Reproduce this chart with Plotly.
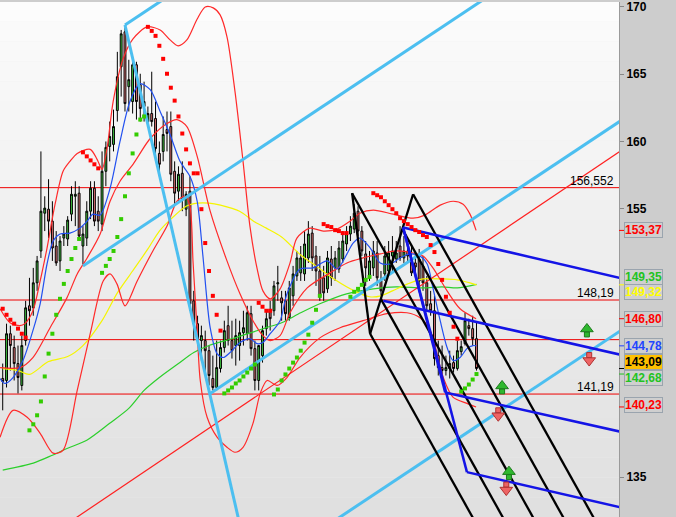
import plotly.graph_objects as go

# ---------------- data ----------------
opens = [142.35,142.20,145.68,144.65,143.46,141.83,145.17,147.76,147.61,149.47,
151.84,154.65,154.95,154.06,152.21,151.10,152.80,152.73,154.58,155.91,
156.14,152.21,152.80,154.80,156.51,154.80,153.84,157.77,159.62,159.77,
162.29,165.55,168.15,164.07,162.96,165.70,164.22,162.59,161.47,162.07,
161.70,159.10,159.25,160.88,161.10,157.77,156.29,157.62,154.95,156.29,
148.13,146.43,145.17,145.17,144.42,142.35,141.68,143.09,144.65,146.28,
145.17,144.80,144.80,145.76,145.68,147.17,144.57,142.20,144.05,146.06,
147.39,147.39,149.39,148.35,148.13,146.87,148.50,149.98,150.21,150.13,
151.32,153.17,151.47,150.35,149.84,149.02,151.24,150.58,150.50,151.24,
152.36,153.10,153.47,154.80,153.32,151.62,149.98,150.58,151.69,149.61,
150.13,150.35,151.47,151.24,152.21,151.32,151.84,151.24,150.95,151.24,
150.73,149.47,147.91,147.39,144.05,143.16,142.94,143.09,143.53,143.09,
144.35,144.94,146.28,146.06,145.31]
highs = [143.46,146.43,146.28,145.54,144.80,145.54,148.13,149.84,150.58,151.47,
159.25,155.91,157.18,155.54,153.32,152.95,153.69,154.43,156.66,157.03,
156.66,153.69,155.54,157.03,157.03,155.91,159.25,159.99,161.47,162.36,
166.66,168.29,168.44,166.07,166.07,165.92,165.03,164.44,162.59,165.18,
162.96,159.99,161.85,162.22,162.22,158.51,158.14,158.51,156.29,157.40,
148.87,147.02,146.28,145.91,144.80,144.05,145.17,145.17,146.65,147.76,
146.65,146.80,146.65,147.39,147.76,147.76,145.17,144.80,146.28,147.39,
148.13,149.61,150.73,148.87,148.87,149.61,150.73,151.84,152.21,153.32,
154.06,153.69,152.21,151.47,150.73,151.84,152.21,151.84,152.58,153.32,
153.69,154.43,155.32,155.17,153.69,152.58,151.84,152.58,152.58,150.35,
152.21,152.58,152.95,152.58,153.69,152.95,152.73,152.21,151.84,151.99,
151.47,149.98,148.87,148.50,145.17,144.80,144.05,144.42,144.05,145.17,
145.17,147.24,146.80,147.02,146.50]
lows = [139.98,141.68,142.94,142.20,141.24,141.46,144.80,146.28,147.02,148.87,
151.32,153.32,152.80,151.10,150.73,150.35,152.21,152.21,154.06,153.69,
152.58,150.87,152.21,154.21,153.69,153.32,153.32,156.66,158.51,159.25,
161.47,163.33,162.22,162.22,162.07,161.62,161.47,161.47,161.10,161.10,
158.51,157.77,158.51,159.25,157.03,155.17,155.54,154.80,154.43,147.39,
145.17,144.80,143.68,142.57,141.83,141.46,141.46,142.79,144.28,144.80,
143.83,143.31,143.68,144.80,145.17,144.05,141.46,141.46,143.53,145.54,
145.91,147.02,148.13,146.65,146.65,146.65,147.76,149.61,149.61,149.61,
150.95,150.35,149.24,148.13,148.13,148.72,149.24,149.61,150.21,150.95,
151.84,152.58,153.17,152.95,151.47,149.24,149.61,149.98,149.24,148.50,
149.61,149.98,150.35,150.95,151.10,150.95,150.95,149.98,150.21,149.24,
148.87,147.39,147.02,143.31,142.57,142.35,142.57,142.35,142.79,142.94,
144.05,144.80,145.54,144.80,142.94]
closes = [142.13,145.68,144.80,143.46,142.42,144.80,147.61,147.39,149.47,151.10,
154.80,155.03,154.06,152.06,150.95,152.58,153.10,154.14,156.06,156.06,
152.95,153.10,154.80,156.51,154.06,154.06,157.77,159.55,160.36,161.10,
164.81,168.00,162.81,164.59,165.70,162.96,162.44,162.96,162.07,161.47,
159.47,158.29,160.51,160.59,157.55,156.14,157.55,155.69,156.06,147.91,
146.43,145.17,145.54,144.42,142.57,141.68,143.16,144.65,145.91,145.17,
144.42,145.54,145.76,146.13,147.24,144.57,142.20,144.80,145.91,146.80,
146.80,149.24,149.47,147.98,147.17,149.09,150.13,151.32,151.32,152.36,
153.10,151.32,150.35,148.50,148.72,151.32,149.84,151.32,152.06,152.58,
153.17,153.69,154.65,153.32,151.84,150.58,151.10,151.84,149.84,148.87,
151.47,151.69,151.84,151.69,151.32,151.84,151.47,150.21,150.65,149.61,
149.47,147.76,147.39,143.83,143.16,142.94,143.16,143.46,143.09,144.42,
144.72,146.65,146.06,145.31,143.09]

# Parabolic SAR
sar = [147.54,147.09,146.72,146.43,146.06,145.68,145.39,138.49,138.94,139.61,
140.64,142.50,144.20,145.68,147.09,148.28,149.39,150.35,151.24,152.06,
152.73,159.18,158.88,158.58,158.29,157.99,150.21,150.73,151.24,151.84,
152.88,154.21,155.91,157.62,159.10,160.51,161.62,161.85,168.52,168.22,
167.85,167.11,166.14,165.03,163.99,163.03,161.85,160.58,159.40,158.36,
157.62,157.62,154.95,152.43,150.35,148.50,147.09,145.91,141.24,141.46,
141.68,141.98,142.20,142.50,142.79,143.09,143.39,147.98,147.69,147.39,
147.39,141.16,141.53,142.20,142.65,143.09,143.53,143.91,144.42,145.02,
145.61,146.50,147.46,148.50,153.84,153.69,153.62,153.39,153.32,153.17,
153.17,148.43,148.80,149.02,149.32,149.69,149.91,156.14,155.99,155.84,
155.54,155.25,154.95,154.65,154.28,154.06,153.84,153.62,153.39,153.25,
153.02,152.88,152.28,151.76,150.87,149.69,148.43,147.24,146.20,145.31,
141.38,141.61,141.90,142.27,142.68]
sar_dir = list("RRRRRRR" + "G"*14 + "R"*5 + "G"*12 + "R"*20 + "G"*9 + "R"*4 +
               "G"*13 + "R"*7 + "G"*6 + "R"*23 + "G"*5)

# Moving averages / Bollinger (sampled points: candle index, price)
ma_long_x = [0,8,13,17,22,28,33,37,41,46,50,54,60,65,69,73,78,83,90,97,103,110,115,119,124]
ma_long_y = [135.53,136.05,136.64,137.16,137.75,139.01,140.12,141.46,142.42,143.46,144.28,144.80,
             145.31,145.76,146.13,146.50,147.24,147.91,148.65,149.02,149.17,149.09,149.17,149.09,149.35]
ma_mid_x = [0,4,7,12,17,21,26,30,34,38,41,44,48,51,54,57,62,66,69,73,78,82,87,92,96,99,102,106,110,115,119,124]
ma_mid_y = [143.09,142.94,142.65,143.61,143.98,144.80,146.65,148.72,150.35,151.99,153.32,154.21,155.17,
            155.40,155.40,155.25,154.80,153.99,153.54,152.88,151.54,150.73,149.69,148.87,148.43,148.50,
            148.87,149.39,149.76,149.76,149.69,149.32]
ma_fast_x = [-0.7,0.6,2.7,5.3,7.9,9.8,11.6,13.2,15.0,17.6,20.2,22.1,23.6,25.5,28.1,30.7,33.3,35.9,38.6,
             41.2,43.8,46.4,49.0,50.9,52.4,54.3,56.1,57.7,59.5,62.1,64.7,66.6,68.1,70.0,72.6,74.4,77.8,
             81.2,84.9,87.5,90.1,91.7,93.5,96.2,98.8,101.4,104.0,106.6,109.2,111.1,112.6,114.5,116.3,
             117.9,119.7,121.5,123.1,124.0]
ma_fast_y = [142.35,141.98,142.42,143.68,145.91,147.91,150.87,152.58,153.10,153.17,153.54,154.06,154.58,
             154.51,156.51,159.99,162.96,164.29,163.85,162.22,160.51,158.51,157.40,155.54,151.47,146.13,
             144.20,143.91,144.28,145.02,145.31,144.94,145.02,145.68,146.65,148.65,150.50,150.58,151.10,
             150.50,151.62,152.43,152.80,152.06,150.95,150.87,151.32,151.62,151.47,150.87,149.09,146.65,
             144.65,143.68,143.91,144.57,144.80,144.78]
bb_up_x = [-0.7,1.9,4.5,5.8,7.9,9.8,11.6,13.7,15.8,17.6,19.5,22.9,24.7,26.0,27.3,28.9,31.5,34.1,37.8,
           41.2,43.8,45.9,48.2,50.9,53.0,55.1,56.9,58.7,60.8,62.9,64.7,66.6,68.1,70.0,72.6,75.2,77.0,
           80.4,83.9,87.5,90.9,93.5,97.0,102.2,107.4,110.5,114.5,117.9,120.5,122.3,123.9]
bb_up_y = [147.54,146.50,146.28,146.43,147.39,149.61,152.06,155.32,157.77,158.51,159.10,159.40,158.66,
           157.92,159.47,162.96,166.14,167.63,168.52,168.29,167.55,167.11,167.55,169.11,170.00,169.93,
           169.41,167.78,163.70,158.51,153.69,150.50,148.87,148.28,149.02,150.95,152.80,153.54,153.32,
           153.47,154.06,154.65,154.88,154.58,154.28,154.51,155.25,155.54,155.32,154.58,153.37]
bb_mid_x = [-0.7,4.5,7.9,12.4,16.8,19.5,22.1,25.5,28.1,30.7,34.1,38.6,43.0,45.6,48.2,50.9,54.3,58.7,
            62.1,65.5,68.1,70.0,72.6,75.2,79.7,85.7,90.1,94.3,98.8,103.2,107.4,110.0,112.6,116.3,119.7,123.9]
bb_mid_y = [143.16,143.16,143.91,146.13,148.35,150.13,151.32,153.10,155.54,157.03,158.29,160.21,161.33,
            161.62,161.10,158.88,154.80,151.10,148.65,146.65,145.54,145.17,145.54,147.24,149.09,150.21,
            150.95,151.32,151.62,151.84,151.69,151.47,150.58,148.87,147.54,146.80]
bb_low_x = [-0.7,2.7,6.4,9.8,13.2,15.8,19.5,22.9,26.3,28.1,29.9,32.0,35.2,39.3,43.0,45.6,47.7,49.0,49.8,
            50.9,51.7,53.5,56.1,58.7,60.8,62.9,65.5,67.4,69.2,71.8,74.4,77.8,83.1,88.3,94.3,100.6,105.8,
            109.2,111.9,115.3,117.9,121.5,123.9]
bb_low_y = [137.98,139.98,139.46,138.27,136.79,137.01,141.46,145.68,149.61,150.13,149.39,147.76,149.61,
            151.84,153.69,155.54,155.91,155.17,151.10,145.91,142.20,139.46,137.98,137.23,136.86,137.23,
            139.01,141.24,142.20,141.83,142.42,143.91,145.39,146.13,146.65,147.17,147.24,146.87,145.91,
            142.42,140.94,140.50,140.23]

# Drawing tools (candle index, price)
cyan_lines = [((32.0, 168.66), (50.0, 172.06)),
              ((21.0, 150.73), (130.0, 171.34)),
              ((54.3, 141.24), (162.0, 161.58)),
              ((80.0, 130.47), (162.0, 145.96)),
              ((32.0, 168.66), (63.0, 130.30))]
red_trend = ((15.0, 131.18), (162.0, 159.34))
blue_lines = [((104.8, 153.59), (162.0, 149.80)),
              ((99.6, 148.13), (162.0, 144.10)),
              ((115.8, 141.31), (162.0, 138.37)),
              ((121.5, 135.38), (162.0, 132.74)),
              ((104.8, 153.59), (121.5, 135.38)),
              ((104.8, 153.59), (115.8, 141.31))]
# pitchfork pivots A, B, C
fork_a = (91.44, 156.14)
fork_b = (96.16, 145.68)
fork_c = (107.41, 156.06)

hlevels = [156.552, 148.19, 145.24, 141.19]
hlevel_text = ["156,552", "148,19", "", "141,19"]

up_arrows_x = [152.9, 130.7, 132.5]
up_arrows_y = [145.85, 141.61, 135.23]
down_arrows_x = [153.5, 129.7, 131.8]
down_arrows_y = [143.87, 139.76, 134.23]

box_values = [153.37, 149.35, 149.32, 146.80, 144.78, 143.09, 142.68, 140.23]
box_pos = [153.39, 149.91, 148.80, 146.80, 144.80, 143.61, 142.42, 140.35]
box_font = ["#ff0000", "#22c322", "#ffff00", "#ff0000", "#2244ff", "#000000", "#22c322", "#ff0000"]
box_bg = ["#cfcfcf", "#cfcfcf", "#cfcfcf", "#cfcfcf", "#cfcfcf", "#ffc000", "#cfcfcf", "#cfcfcf"]
tick_marks = [(153.37, "#ff0000"), (149.32, "#ffff00"), (146.80, "#ff0000"), (144.78, "#2244ff"),
              (143.09, "#000000"), (142.68, "#22c322"), (140.23, "#ff0000")]

ytick_vals = [135, 155, 160, 165, 170]

# ---------------- figure ----------------
XR = [-0.71, 161.3]
YR = [132.04, 170.37]
PX = (YR[1] - YR[0]) / 517.0  # price per pixel
idx = list(range(len(opens)))

fig = go.Figure()

shapes = []
nb = 26
for k in range(nb):
    t = k / (nb - 1)
    c = int(252 - t * (252 - 224))
    shapes.append(dict(type="rect", xref="paper", yref="paper", x0=0, x1=1,
                       y0=1 - (k + 1) / nb, y1=1 - k / nb, layer="below",
                       fillcolor=f"rgb({c},{c},{c})", line=dict(width=0)))
for lv in hlevels:
    shapes.append(dict(type="line", xref="paper", yref="y", x0=0, x1=1, y0=lv, y1=lv,
                       line=dict(color="#ee0000", width=1), layer="below"))
for v, col in tick_marks:
    shapes.append(dict(type="line", xref="paper", yref="y", x0=1.0, x1=1.0 + 5 / 619,
                       y0=v, y1=v, line=dict(color=col, width=1)))

fig.add_trace(go.Candlestick(
    x=idx, open=opens, high=highs, low=lows, close=closes,
    increasing=dict(fillcolor="#3fc43f", line=dict(color="#000000", width=1)),
    decreasing=dict(fillcolor="#e47474", line=dict(color="#000000", width=1)),
    whiskerwidth=0, showlegend=False, hoverinfo="skip"))

def curve(x, y, color, width=1.2):
    fig.add_trace(go.Scatter(x=x, y=y, mode="lines",
                             line=dict(color=color, width=width, shape="spline", smoothing=0.8),
                             showlegend=False, hoverinfo="skip"))

curve(ma_long_x, ma_long_y, "#2ccf2c")
curve(ma_mid_x, ma_mid_y, "#f5f500")
curve(bb_up_x, bb_up_y, "#ff2a2a")
curve(bb_mid_x, bb_mid_y, "#ff2a2a")
curve(bb_low_x, bb_low_y, "#ff2a2a")
curve(ma_fast_x, ma_fast_y, "#2250f0")

def seg(p, color, width):
    fig.add_trace(go.Scatter(x=[p[0][0], p[1][0]], y=[p[0][1], p[1][1]], mode="lines",
                             line=dict(color=color, width=width), showlegend=False, hoverinfo="skip"))

seg(red_trend, "#ff2020", 1.2)
for p in cyan_lines:
    seg(p, "#4cbff0", 3)

# Andrews pitchfork: median from A through midpoint of BC, tines from B and C, quarter lines
mid = ((fork_b[0] + fork_c[0]) / 2, (fork_b[1] + fork_c[1]) / 2)
slope = (mid[1] - fork_a[1]) / (mid[0] - fork_a[0])
def ray(start):
    end_i = start[0] + (128.0 - start[1]) / slope
    return (start, (end_i, 128.0))
starts = [fork_a, fork_b, fork_c,
          (fork_b[0] + 0.25 * (fork_c[0] - fork_b[0]), fork_b[1] + 0.25 * (fork_c[1] - fork_b[1])),
          (fork_b[0] + 0.75 * (fork_c[0] - fork_b[0]), fork_b[1] + 0.75 * (fork_c[1] - fork_b[1]))]
for s in starts:
    seg(ray(s), "#000000", 2.3)
seg((fork_a, fork_b), "#000000", 2.3)
seg((fork_b, fork_c), "#000000", 2.3)

for p in blue_lines:
    seg(p, "#1414e6", 2.5)

rx = [i for i, d in zip(idx, sar_dir) if d == "R"]
ry = [v for v, d in zip(sar, sar_dir) if d == "R"]
gx = [i for i, d in zip(idx, sar_dir) if d == "G"]
gy = [v for v, d in zip(sar, sar_dir) if d == "G"]
fig.add_trace(go.Scatter(x=rx, y=ry, mode="markers", marker=dict(symbol="square", size=4, color="#ff0000"),
                         showlegend=False, hoverinfo="skip"))
fig.add_trace(go.Scatter(x=gx, y=gy, mode="markers", marker=dict(symbol="square", size=4, color="#33cc00"),
                         showlegend=False, hoverinfo="skip"))

# block arrows: head + shaft
fig.add_trace(go.Scatter(x=up_arrows_x, y=[v - 3 * PX for v in up_arrows_y], mode="markers",
                         marker=dict(symbol="square", size=5, color="#2fb82f", line=dict(color="#1c7a1c", width=1)),
                         showlegend=False, hoverinfo="skip"))
fig.add_trace(go.Scatter(x=up_arrows_x, y=[v + 2.5 * PX for v in up_arrows_y], mode="markers",
                         marker=dict(symbol="triangle-up", size=11, color="#2fb82f", line=dict(color="#1c7a1c", width=1)),
                         showlegend=False, hoverinfo="skip"))
fig.add_trace(go.Scatter(x=down_arrows_x, y=[v + 3 * PX for v in down_arrows_y], mode="markers",
                         marker=dict(symbol="square", size=5, color="#ee6464", line=dict(color="#b03030", width=1)),
                         showlegend=False, hoverinfo="skip"))
fig.add_trace(go.Scatter(x=down_arrows_x, y=[v - 2.5 * PX for v in down_arrows_y], mode="markers",
                         marker=dict(symbol="triangle-down", size=11, color="#ee6464", line=dict(color="#b03030", width=1)),
                         showlegend=False, hoverinfo="skip"))

annotations = []
for lv, txt in zip(hlevels, hlevel_text):
    if txt:
        annotations.append(dict(xref="paper", yref="y", x=1 - 3 / 619, y=lv, text=txt, showarrow=False,
                                xanchor="right", yanchor="bottom", yshift=-2,
                                font=dict(family="Liberation Sans, Arial", size=12, color="#000000")))
for v, pos, fc, bg in zip(box_values, box_pos, box_font, box_bg):
    annotations.append(dict(xref="paper", yref="y", x=1 + 5 / 619, y=pos,
                            text="<b>" + f"{v:.2f}".replace(".", ",") + "</b>", showarrow=False,
                            xanchor="left", yanchor="middle", bgcolor=bg, bordercolor="#9aa4ae",
                            borderwidth=1, borderpad=0,
                            font=dict(family="Liberation Sans, Arial", size=12, color=fc)))

fig.update_layout(
    width=676, height=517, margin=dict(l=0, r=57, t=0, b=0),
    paper_bgcolor="#cdcdcd", plot_bgcolor="#eeeeee",
    shapes=shapes, annotations=annotations, showlegend=False,
    xaxis=dict(range=XR, showgrid=False, zeroline=False, showticklabels=False, ticks="",
               rangeslider=dict(visible=False), fixedrange=True),
    yaxis=dict(range=YR, side="right", showgrid=False, zeroline=False, tickvals=ytick_vals,
               ticktext=["<b>%d</b>" % v for v in ytick_vals], ticks="outside", ticklen=4,
               tickcolor="#888888", showline=True, linecolor="#9a9a9a", linewidth=1,
               ticklabeloverflow="allow",
               tickfont=dict(family="Liberation Sans, Arial", size=12, color="#000000"),
               fixedrange=True),
)

fig.write_html("out.html", config={"displayModeBar": False},
               post_script="document.body.style.margin='0px';document.body.style.overflow='hidden';")
